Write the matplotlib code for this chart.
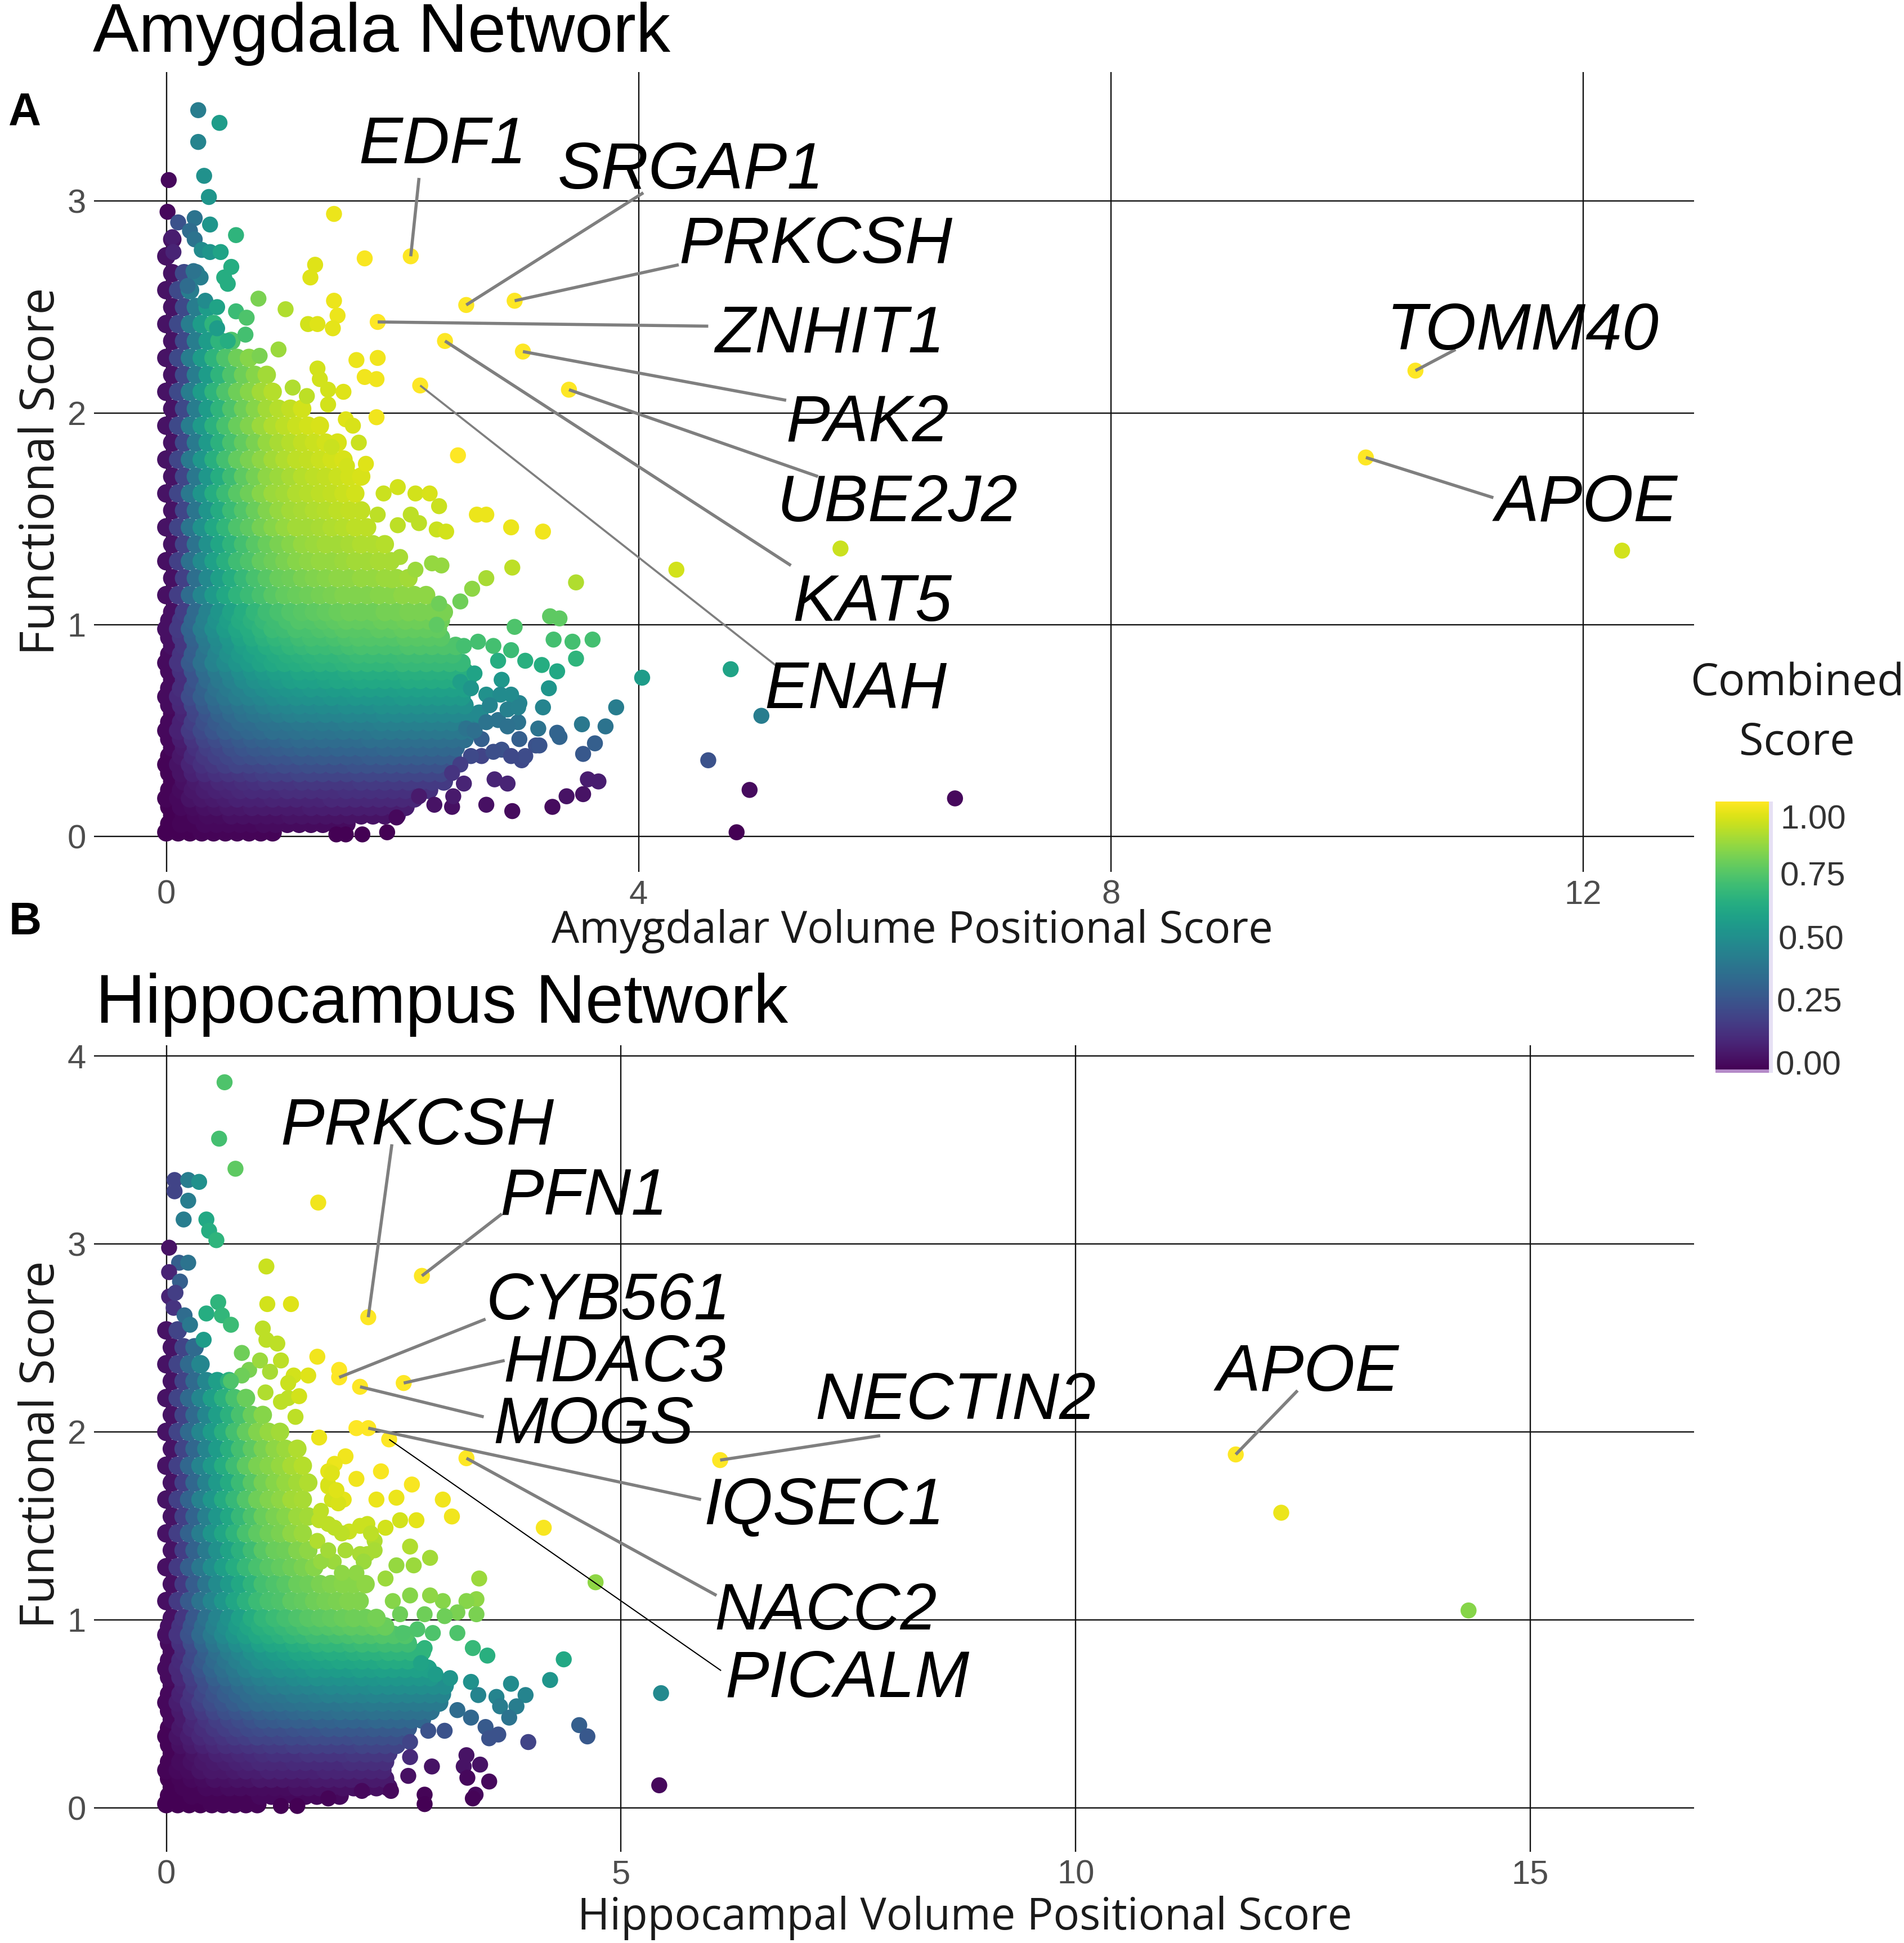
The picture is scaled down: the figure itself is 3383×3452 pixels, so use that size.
import matplotlib
matplotlib.use("Agg")
import matplotlib.pyplot as plt
import numpy as np
from matplotlib.cm import ScalarMappable
from matplotlib.colors import Normalize
from matplotlib.patches import Rectangle

W, H = 3383, 3452

# ---- Amygdala panel: dense part of the cloud, read row by row (score in %)
# even rows sit on a_cloud_x, odd rows on a_cloud_x2
a_cloud_x = [0.0, 0.1, 0.2, 0.3, 0.4, 0.5, 0.6, 0.7, 0.8, 0.9, 1.0, 1.1, 1.2,
             1.3, 1.4, 1.5, 1.6, 1.7, 1.8, 1.9, 2.0, 2.1, 2.2, 2.3, 2.4, 2.5, 2.6]
a_cloud_x2 = [0.05, 0.15, 0.25, 0.35, 0.45, 0.55, 0.65, 0.75, 0.85, 0.95, 1.05, 1.15, 1.25,
              1.35, 1.45, 1.55, 1.65, 1.75, 1.85, 1.95, 2.05, 2.15, 2.25, 2.35, 2.45, 2.55, 2.65]
a_cloud_y = [0.02, 0.10, 0.18, 0.26, 0.34, 0.42, 0.50, 0.58, 0.66, 0.74, 0.82,
             0.90, 0.98, 1.06, 1.14, 1.22, 1.30, 1.38, 1.46, 1.54, 1.62, 1.70,
             1.78, 1.86, 1.94, 2.02, 2.10, 2.18, 2.26, 2.34, 2.42, 2.50, 2.58,
             2.66, 2.74, 2.82]
a_cloud_score = [
    [0, 0, 0, 1, 1, 1, 1, 1, 1, 1],
    [0, 1, 2, 3, 3, 4, 4, 4, 4, 4, 5, 5, 5, 5, 5, 5, 5, 5, 5, 5],
    [1, 2, 5, 6, 7, 8, 9, 9, 9, 10, 10, 10, 10, 10, 11, 11, 11, 11, 11, 11, 11, 11],
    [1, 4, 7, 9, 11, 12, 13, 14, 15, 15, 15, 16, 16, 16, 16, 16, 17, 17, 17, 17, 17, 17, 17, 17],
    [1, 5, 10, 14, 16, 18, 20, 20, 21, 22, 23, 23, 24, 24, 24, 24, 25, 25, 25, 25, 25, 25, 25, 25, 25],
    [2, 7, 14, 18, 21, 24, 26, 27, 28, 29, 30, 31, 31, 31, 32, 32, 32, 32, 33, 33, 33, 33, 33, 33, 33],
    [2, 9, 17, 22, 26, 29, 31, 33, 34, 36, 36, 37, 38, 38, 38, 39, 39, 39, 40, 40, 40, 40, 40, 40, 40, 40, 40],
    [2, 10, 20, 26, 31, 34, 37, 39, 40, 42, 43, 44, 44, 45, 45, 46, 46, 46, 47, 47, 47, 47, 47, 47, 47, 47, 47],
    [3, 12, 23, 30, 35, 39, 42, 44, 46, 48, 49, 50, 51, 51, 52, 52, 53, 53, 53, 53, 54, 54, 54, 54, 54, 54],
    [3, 13, 26, 34, 40, 44, 48, 50, 52, 54, 56, 57, 57, 58, 59, 59, 60, 60, 60, 60, 61, 61, 61, 61, 61, 61],
    [3, 15, 28, 37, 44, 48, 52, 55, 58, 60, 61, 62, 63, 64, 64, 65, 66, 66, 66, 66, 67, 67, 67, 67, 67, 67],
    [4, 16, 30, 40, 47, 52, 56, 59, 62, 64, 66, 67, 68, 68, 69, 70, 71, 71, 71, 71, 72, 72, 72, 72, 72],
    [4, 17, 32, 42, 49, 55, 59, 62, 65, 68, 69, 71, 71, 72, 73, 74, 74, 74, 75, 75, 76, 76, 76, 76],
    [4, 18, 34, 44, 52, 58, 62, 66, 69, 71, 73, 74, 75, 76, 77, 78, 78, 78, 79, 79, 80, 80, 80, 80],
    [4, 18, 35, 46, 54, 60, 65, 68, 71, 74, 76, 77, 78, 79, 80, 81, 81, 81, 82, 82, 83, 83, 83],
    [4, 19, 36, 47, 56, 62, 67, 71, 74, 77, 78, 80, 81, 82, 83, 83, 84, 84, 85, 85, 86],
    [4, 19, 37, 48, 57, 63, 69, 72, 76, 78, 80, 82, 83, 84, 84, 85, 86, 86, 87, 87],
    [5, 20, 38, 50, 59, 65, 70, 74, 77, 80, 82, 84, 85, 86, 86, 87, 88, 88, 89],
    [5, 20, 39, 51, 60, 66, 72, 75, 79, 82, 84, 86, 86, 87, 88, 89, 90, 90],
    [5, 21, 39, 52, 61, 68, 73, 77, 81, 84, 86, 87, 88, 89, 90, 91, 91],
    [5, 21, 40, 52, 62, 68, 74, 78, 82, 85, 86, 88, 89, 90, 91, 92, 93],
    [5, 21, 40, 53, 62, 69, 75, 79, 83, 85, 87, 89, 90, 91, 92, 93, 94],
    [5, 21, 41, 53, 63, 70, 76, 80, 83, 86, 88, 90, 91, 92, 93, 94],
    [5, 22, 41, 54, 64, 71, 76, 80, 84, 87, 89, 91, 92, 93, 94],
    [5, 22, 42, 54, 64, 71, 77, 81, 85, 88, 90, 92, 93, 94],
    [5, 22, 42, 55, 65, 72, 78, 82, 86, 89, 91, 93],
    [5, 22, 42, 55, 65, 72, 78, 82, 86, 89],
    [5, 22, 42, 55, 65, 72, 78, 82, 86],
    [5, 22, 42, 55, 65, 72, 78, 82],
    [5, 22, 42, 55, 65, 72],
    [5, 22, 42, 55, 65],
    [5, 22, 42, 55],
    [5, 22, 42],
    [5, 22, 42],
    [5],
    [5],
]

# in-between rows in the lower part, where the colour changes quickly with height
a_fill_x = [0.025, 0.125, 0.225, 0.325, 0.425, 0.525, 0.625, 0.725, 0.825, 0.925, 1.025, 1.125, 1.225,
            1.325, 1.425, 1.525, 1.625, 1.725, 1.825, 1.925, 2.025, 2.125, 2.225, 2.325, 2.425, 2.525, 2.625]
a_fill_y = [0.06, 0.14, 0.22, 0.30, 0.38, 0.46, 0.54, 0.62, 0.70, 0.78, 0.86, 0.94, 1.02]
a_fill_score = [
    [0, 1, 1, 2, 2, 2, 2, 2, 3, 3, 3, 3, 3, 3, 3, 3],
    [0, 2, 3, 4, 5, 6, 6, 7, 7, 7, 7, 7, 8, 8, 8, 8, 8, 8, 8, 8, 8],
    [1, 3, 6, 8, 9, 10, 11, 12, 12, 12, 13, 13, 13, 13, 13, 14, 14, 14, 14, 14, 14, 14, 14],
    [1, 5, 9, 12, 14, 15, 16, 17, 18, 19, 19, 20, 20, 20, 20, 20, 21, 21, 21, 21, 21, 21, 21, 21],
    [1, 6, 12, 16, 19, 21, 23, 24, 25, 26, 26, 27, 27, 28, 28, 28, 28, 29, 29, 29, 29, 29, 29, 29, 29],
    [2, 8, 15, 20, 23, 26, 28, 30, 31, 32, 33, 34, 34, 35, 35, 35, 35, 36, 36, 36, 36, 36, 36, 36, 36, 36],
    [2, 9, 18, 24, 28, 31, 34, 35, 37, 38, 39, 40, 40, 41, 41, 42, 42, 42, 43, 43, 43, 43, 43, 43, 43, 43, 43],
    [3, 11, 21, 28, 33, 36, 39, 41, 43, 45, 46, 47, 47, 48, 48, 49, 49, 49, 50, 50, 50, 50, 50, 50, 50, 50],
    [3, 13, 24, 31, 37, 41, 44, 47, 49, 51, 52, 53, 54, 54, 55, 55, 56, 56, 56, 56, 57, 57, 57, 57, 57, 57],
    [3, 14, 26, 35, 41, 45, 49, 52, 54, 56, 57, 59, 59, 60, 60, 61, 62, 62, 62, 62, 63, 63, 63, 63, 63, 63],
    [3, 15, 29, 38, 45, 50, 54, 57, 59, 61, 63, 64, 65, 66, 66, 67, 68, 68, 68, 68, 69, 69, 69, 69, 69],
    [4, 16, 31, 41, 48, 53, 58, 61, 64, 66, 67, 69, 70, 70, 71, 72, 73, 73, 73, 73, 74, 74, 74, 74],
    [4, 17, 33, 43, 51, 56, 61, 64, 67, 69, 71, 73, 73, 74, 75, 76, 76, 76, 77, 77, 78, 78, 78, 78],
]

# separate points around the cloud
a_x = [0.27, 0.45, 0.27, 0.32, 0.36, 0.02, 0.01, 0.10, 0.24, 0.37,
       0.59, 1.42, 1.68, 1.26, 1.22, 0.78, 1.01, 1.42, 1.45, 1.2,
       1.28, 1.41, 0.95, 0.79, 1.61, 1.79, 1.68, 1.78, 1.28, 1.3,
       1.37, 1.5, 1.07, 1.19, 1.37, 1.78, 1.52, 1.58, 1.63, 1.4,
       1.69, 1.53, 2.47, 1.84, 1.96, 2.11, 2.23, 2.31, 1.79, 1.96,
       2.07, 2.14, 2.29, 2.37, 2.63, 2.71, 2.92, 3.19, 2.93, 2.71,
       2.59, 3.47, 2.49, 2.25, 2.33, 1.98, 2.11, 1.91, 2.31, 2.29,
       2.95, 3.25, 3.33, 3.28, 3.44, 3.61, 3.47, 3.31, 3.18, 3.04,
       2.92, 2.77, 2.64, 2.52, 2.81, 4.03, 3.24, 3.19, 3.81, 3.72,
       3.52, 3.15, 3.33, 3.63, 3.53, 2.99, 2.84, 2.61, 2.81, 2.98,
       2.99, 2.67, 2.84, 3.01, 3.13, 2.67, 2.78, 2.89, 3.57, 3.66,
       3.39, 3.53, 3.27, 2.71, 2.93, 2.42, 2.27, 2.43, 2.14, 1.44,
       1.52, 1.66, 1.87, 1.95, 4.32, 5.71, 4.78, 5.04, 4.59, 4.94,
       4.83, 6.68, 12.33]
a_y = [3.43, 3.37, 3.28, 3.12, 3.02, 3.10, 2.95, 2.90, 2.92, 2.89,
       2.84, 2.94, 2.73, 2.70, 2.64, 2.54, 2.49, 2.53, 2.46, 2.42,
       2.42, 2.40, 2.30, 2.27, 2.25, 2.26, 2.17, 2.16, 2.21, 2.16,
       2.11, 2.10, 2.12, 2.08, 2.04, 1.98, 1.97, 1.94, 1.86, 1.84,
       1.76, 1.75, 1.80, 1.62, 1.65, 1.62, 1.62, 1.56, 1.52, 1.47,
       1.52, 1.48, 1.45, 1.44, 1.52, 1.52, 1.46, 1.44, 1.27, 1.22,
       1.17, 1.2, 1.11, 1.29, 1.28, 1.32, 1.26, 1.21, 1.1, 1.0,
       0.99, 1.04, 1.03, 0.93, 0.92, 0.93, 0.84, 0.78, 0.81, 0.83,
       0.88, 0.9, 0.92, 0.9, 0.83, 0.75, 0.7, 0.61, 0.61, 0.52,
       0.53, 0.51, 0.47, 0.44, 0.39, 0.63, 0.74, 0.77, 0.55, 0.54,
       0.46, 0.46, 0.41, 0.36, 0.43, 0.38, 0.27, 0.25, 0.27, 0.26,
       0.19, 0.2, 0.14, 0.15, 0.12, 0.14, 0.15, 0.19, 0.19, 0.01,
       0.01, 0.01, 0.02, 0.09, 1.26, 1.36, 0.79, 0.57, 0.36, 0.22,
       0.02, 0.18, 1.35]
a_score = [0.42, 0.55, 0.45, 0.5, 0.52, 0.02, 0.02, 0.25, 0.38, 0.52,
           0.65, 0.97, 0.99, 0.95, 0.95, 0.8, 0.88, 0.97, 0.97, 0.93,
           0.95, 0.96, 0.85, 0.8, 0.97, 0.98, 0.98, 0.98, 0.93, 0.93,
           0.93, 0.95, 0.88, 0.9, 0.93, 0.98, 0.95, 0.94, 0.92, 0.92,
           0.95, 0.93, 1.0, 0.92, 0.93, 0.93, 0.94, 0.92, 0.9, 0.9,
           0.9, 0.9, 0.92, 0.93, 0.97, 0.97, 0.97, 0.98, 0.9, 0.87,
           0.83, 0.88, 0.78, 0.84, 0.84, 0.87, 0.85, 0.85, 0.78, 0.75,
           0.72, 0.75, 0.75, 0.7, 0.7, 0.7, 0.65, 0.6, 0.62, 0.63,
           0.68, 0.7, 0.7, 0.7, 0.62, 0.55, 0.52, 0.45, 0.42, 0.38,
           0.4, 0.38, 0.32, 0.3, 0.27, 0.45, 0.53, 0.58, 0.38, 0.38,
           0.3, 0.3, 0.25, 0.22, 0.25, 0.2, 0.1, 0.1, 0.08, 0.08,
           0.05, 0.05, 0.03, 0.04, 0.03, 0.04, 0.05, 0.07, 0.07, 0.0,
           0.0, 0.0, 0.0, 0.02, 0.93, 0.92, 0.58, 0.42, 0.25, 0.03,
           0.0, 0.02, 0.93]

# looser points near the top of the cloud and along its lower right edge
a_more_x = [0.05, 0.06, 0.2, 0.24, 0.3, 0.37, 0.46, 0.55, 0.49, 0.52,
            0.29, 0.23, 0.18, 0.33, 0.43, 0.59, 0.68, 0.67, 0.52, 0.43,
            2.49, 2.58, 2.71, 2.83, 2.92, 2.74, 2.89, 2.98, 2.54, 2.61,
            2.71, 2.89, 3.31, 3.16, 3.04, 2.92, 2.77, 2.58, 2.49, 2.42, 2.52]
a_more_y = [2.83, 2.76, 2.86, 2.82, 2.77, 2.76, 2.76, 2.69, 2.64, 2.61,
            2.64, 2.67, 2.6, 2.53, 2.5, 2.48, 2.45, 2.37, 2.34, 2.4,
            0.73, 0.7, 0.67, 0.67, 0.67, 0.62, 0.6, 0.61, 0.51, 0.5,
            0.54, 0.52, 0.49, 0.43, 0.38, 0.38, 0.4, 0.38, 0.34, 0.3, 0.25]
a_more_score = [0.08, 0.1, 0.35, 0.38, 0.48, 0.52, 0.58, 0.62, 0.62, 0.62,
                0.42, 0.38, 0.35, 0.48, 0.58, 0.68, 0.72, 0.7, 0.62, 0.55,
                0.56, 0.52, 0.5, 0.48, 0.48, 0.45, 0.43, 0.44, 0.38, 0.36,
                0.38, 0.37, 0.32, 0.26, 0.23, 0.22, 0.24, 0.22, 0.18, 0.15, 0.1]

# labelled genes
a_gene = ["EDF1", "SRGAP1", "PRKCSH", "ZNHIT1", "PAK2", "UBE2J2", "KAT5", "ENAH", "TOMM40", "APOE"]
a_gene_x = [2.07, 2.54, 2.95, 1.79, 3.02, 3.41, 2.36, 2.15, 10.58, 10.16]
a_gene_y = [2.74, 2.51, 2.53, 2.43, 2.29, 2.11, 2.34, 2.13, 2.20, 1.79]
# where the label sits and where its leader line starts
a_label_x = [2.34, 4.44, 5.50, 5.62, 5.94, 6.19, 5.98, 5.84, 11.49, 12.03]
a_label_y = [3.26, 3.14, 2.79, 2.37, 1.95, 1.57, 1.10, 0.69, 2.38, 1.57]
a_line_x = [2.14, 4.04, 4.34, 4.59, 5.25, 5.52, 5.29, 5.18, 10.92, 11.24]
a_line_y = [3.11, 3.04, 2.70, 2.41, 2.06, 1.70, 1.28, 0.80, 2.30, 1.60]

# ---- Hippocampus panel
b_cloud_x = [0.0, 0.125, 0.25, 0.375, 0.5, 0.625, 0.75, 0.875, 1.0, 1.125, 1.25, 1.375,
             1.5, 1.625, 1.75, 1.875, 2.0, 2.125, 2.25, 2.375, 2.5, 2.625, 2.75, 2.875, 3.0]
b_cloud_x2 = [0.06, 0.19, 0.31, 0.44, 0.56, 0.69, 0.81, 0.94, 1.06, 1.19, 1.31, 1.44,
              1.56, 1.69, 1.81, 1.94, 2.06, 2.19, 2.31, 2.44, 2.56, 2.69, 2.81, 2.94, 3.06]
b_cloud_y = [0.02, 0.11, 0.20, 0.29, 0.38, 0.47, 0.56, 0.65, 0.74, 0.83, 0.92,
             1.01, 1.10, 1.19, 1.28, 1.37, 1.46, 1.55, 1.64, 1.73, 1.82, 1.91,
             2.00, 2.09, 2.18, 2.27, 2.36, 2.45, 2.54]
b_cloud_score = [
    [0, 0, 0, 0, 1, 1, 1, 1, 1],
    [0, 1, 1, 2, 2, 3, 3, 3, 3, 3, 3, 4, 4, 4, 4, 4, 4, 4, 4, 4],
    [1, 2, 3, 5, 6, 6, 7, 8, 8, 9, 9, 9, 9, 9, 10, 10, 10, 10, 10, 10],
    [1, 3, 5, 7, 9, 10, 11, 12, 13, 14, 14, 14, 15, 15, 15, 15, 16, 16, 16, 16],
    [1, 5, 8, 11, 13, 15, 17, 18, 20, 20, 21, 22, 22, 23, 23, 23, 23, 24, 24, 24, 24, 24],
    [2, 7, 11, 15, 18, 21, 23, 25, 27, 28, 29, 30, 30, 31, 31, 32, 32, 32, 33, 33, 33, 33, 33],
    [2, 8, 14, 19, 23, 26, 29, 32, 34, 35, 36, 37, 38, 39, 39, 39, 40, 40, 41, 41, 41, 41, 41, 41, 41],
    [2, 10, 17, 23, 27, 31, 35, 38, 40, 42, 43, 44, 45, 46, 47, 47, 48, 48, 49, 49, 49, 49, 49, 49, 49],
    [3, 11, 19, 26, 32, 36, 40, 44, 47, 48, 50, 51, 52, 54, 54, 55, 55, 56, 56, 57, 57, 57, 57, 57],
    [3, 13, 22, 30, 36, 42, 46, 50, 53, 55, 57, 59, 60, 61, 62, 62, 63, 64, 64, 65, 65, 65, 65],
    [4, 15, 25, 34, 41, 47, 52, 56, 60, 62, 64, 66, 67, 69, 69, 70, 71, 72, 72, 73, 73, 73],
    [4, 16, 27, 37, 45, 51, 57, 62, 66, 68, 70, 72, 74, 75, 76, 77, 78, 78, 79],
    [4, 17, 28, 38, 46, 53, 59, 64, 68, 71, 72, 75, 76, 78, 79, 80, 81, 81],
    [4, 17, 29, 39, 48, 54, 60, 65, 70, 72, 74, 77, 78, 80, 81, 82, 82, 83],
    [4, 17, 30, 40, 49, 56, 62, 67, 71, 74, 76, 78, 80, 82],
    [5, 18, 31, 41, 50, 58, 64, 69, 74, 77, 78, 81, 83],
    [5, 18, 31, 42, 52, 59, 65, 71, 75, 78, 80, 83, 85],
    [5, 19, 32, 43, 53, 60, 67, 72, 77, 80, 82, 85, 86],
    [5, 19, 32, 44, 53, 61, 67, 73, 78, 81, 83, 86, 87],
    [5, 19, 33, 44, 54, 61, 68, 74, 79, 82, 84, 86, 88],
    [5, 19, 33, 45, 54, 62, 69, 75, 80, 82, 84, 87, 89],
    [5, 20, 33, 45, 55, 63, 70, 75, 80, 83, 85, 88],
    [5, 20, 34, 46, 55, 63, 70, 76, 81, 84, 86],
    [5, 20, 34, 46, 56, 64, 71, 77, 82],
    [5, 20, 34, 46, 56, 64, 71, 77],
    [5, 20, 34, 46, 56, 64],
    [5, 20, 34, 46],
    [5, 20, 34],
    [5, 20],
]

b_fill_x = [0.03, 0.155, 0.28, 0.405, 0.53, 0.655, 0.78, 0.905, 1.03, 1.155, 1.28, 1.405,
            1.53, 1.655, 1.78, 1.905, 2.03, 2.155, 2.28, 2.405, 2.53, 2.655, 2.78, 2.905, 3.03]
b_fill_y = [0.065, 0.155, 0.245, 0.335, 0.425, 0.515, 0.605, 0.695, 0.785, 0.875, 0.965]
b_fill_score = [
    [0, 0, 1, 1, 1, 1, 1, 1, 2, 2, 2, 2, 2, 2, 2, 2],
    [0, 1, 2, 3, 4, 4, 5, 5, 6, 6, 6, 6, 6, 7, 7, 7, 7, 7, 7, 7],
    [1, 3, 4, 6, 7, 8, 9, 10, 11, 11, 11, 12, 12, 12, 12, 12, 13, 13, 13, 13],
    [1, 4, 7, 9, 11, 13, 14, 15, 16, 17, 17, 18, 18, 19, 19, 19, 19, 20, 20, 20, 20],
    [1, 6, 10, 13, 16, 18, 20, 22, 23, 24, 24, 25, 26, 26, 27, 27, 27, 27, 28, 28, 28, 28],
    [2, 7, 13, 17, 21, 24, 26, 28, 30, 31, 32, 33, 34, 35, 35, 36, 36, 36, 37, 37, 37, 37, 37, 37],
    [2, 9, 15, 21, 25, 29, 32, 35, 37, 38, 39, 41, 41, 42, 43, 43, 44, 44, 45, 45, 45, 45, 45, 45, 45],
    [3, 11, 18, 24, 30, 34, 38, 41, 43, 45, 46, 48, 49, 50, 50, 51, 51, 52, 52, 53, 53, 53, 53, 53],
    [3, 12, 21, 28, 34, 39, 43, 47, 50, 52, 53, 55, 56, 57, 58, 59, 59, 60, 60, 61, 61, 61, 61],
    [3, 14, 23, 32, 39, 44, 49, 53, 57, 59, 60, 62, 63, 65, 66, 66, 67, 68, 68, 69, 69, 69],
    [4, 15, 26, 35, 43, 49, 55, 59, 63, 65, 67, 69, 71, 72, 73, 74, 75, 75, 76, 77],
]

b_x = [0.64, 0.58, 0.76, 1.67, 0.09, 0.24, 0.36, 0.09, 0.24, 0.19,
       0.44, 0.47, 0.55, 0.03, 0.14, 0.24, 0.03, 0.15, 1.1, 1.11,
       1.37, 0.03, 0.08, 0.44, 0.57, 0.61, 0.71, 0.2, 0.26, 0.1,
       0.41, 1.06, 1.1, 1.22, 0.83, 1.66, 1.9, 2.09, 1.68, 1.97,
       1.85, 1.78, 2.09, 2.36, 2.7, 1.78, 1.95, 2.31, 2.53, 3.04,
       3.14, 4.15, 2.75, 2.57, 2.41, 2.21, 2.01, 1.85, 1.68, 2.68,
       2.9, 2.72, 2.29, 2.21, 2.53, 1.97, 3.44, 3.41, 3.3, 3.41,
       3.04, 2.9, 3.2, 3.06, 2.84, 2.41, 2.49, 2.68, 2.57, 4.72,
       2.93, 3.2, 2.84, 3.37, 3.53, 4.37, 4.22, 2.76, 2.6, 2.8,
       2.96, 3.12, 3.35, 3.43, 3.63, 3.79, 3.95, 3.67, 3.85, 3.77,
       5.44, 3.35, 3.2, 3.51, 3.65, 3.55, 3.98, 4.54, 4.63, 2.88,
       3.06, 2.68, 2.68, 2.66, 2.92, 3.3, 3.27, 3.45, 3.31, 3.55,
       3.4, 3.37, 2.84, 2.84, 5.42, 1.26, 1.44, 1.78, 2.15, 2.47,
       12.26, 14.32]
b_y = [3.86, 3.56, 3.40, 3.22, 3.34, 3.34, 3.33, 3.28, 3.23, 3.13,
       3.13, 3.07, 3.02, 2.98, 2.90, 2.9, 2.85, 2.80, 2.88, 2.68,
       2.68, 2.72, 2.66, 2.63, 2.69, 2.62, 2.57, 2.62, 2.57, 2.74,
       2.49, 2.55, 2.49, 2.47, 2.42, 2.40, 2.33, 2.02, 1.97, 1.87,
       1.83, 1.79, 1.75, 1.79, 1.72, 1.71, 1.64, 1.64, 1.65, 1.64,
       1.55, 1.49, 1.53, 1.53, 1.49, 1.51, 1.47, 1.49, 1.53, 1.39,
       1.33, 1.29, 1.42, 1.35, 1.29, 1.37, 1.22, 1.11, 1.1, 1.03,
       1.1, 1.13, 1.04, 1.02, 1.03, 1.22, 1.1, 1.13, 1.03, 1.2,
       0.93, 0.93, 0.85, 0.85, 0.81, 0.79, 0.68, 0.95, 0.93, 0.77,
       0.71, 0.69, 0.67, 0.6, 0.59, 0.66, 0.6, 0.54, 0.54, 0.48,
       0.61, 0.48, 0.52, 0.43, 0.39, 0.37, 0.35, 0.44, 0.38, 0.41,
       0.41, 0.35, 0.27, 0.17, 0.22, 0.28, 0.22, 0.23, 0.16, 0.14,
       0.07, 0.05, 0.07, 0.02, 0.12, 0.01, 0.01, 0.05, 0.09, 0.09,
       1.57, 1.05]
b_score = [0.72, 0.7, 0.75, 0.98, 0.2, 0.42, 0.5, 0.2, 0.42, 0.42,
           0.6, 0.62, 0.65, 0.05, 0.3, 0.38, 0.1, 0.3, 0.92, 0.93,
           0.95, 0.1, 0.15, 0.62, 0.65, 0.66, 0.68, 0.35, 0.4, 0.18,
           0.55, 0.9, 0.9, 0.9, 0.78, 0.98, 1.0, 1.0, 0.97, 0.98,
           0.97, 0.96, 0.98, 0.99, 0.99, 0.95, 0.96, 0.97, 0.97, 0.98,
           0.98, 0.99, 0.96, 0.93, 0.93, 0.92, 0.92, 0.9, 0.9, 0.88,
           0.86, 0.85, 0.88, 0.87, 0.84, 0.87, 0.85, 0.83, 0.82, 0.8,
           0.82, 0.83, 0.8, 0.78, 0.78, 0.85, 0.82, 0.82, 0.78, 0.83,
           0.72, 0.72, 0.65, 0.67, 0.63, 0.6, 0.52, 0.72, 0.72, 0.58,
           0.55, 0.52, 0.5, 0.45, 0.45, 0.48, 0.45, 0.42, 0.42, 0.38,
           0.47, 0.33, 0.35, 0.28, 0.25, 0.25, 0.2, 0.3, 0.27, 0.25,
           0.25, 0.2, 0.12, 0.04, 0.05, 0.05, 0.05, 0.05, 0.02, 0.02,
           0.02, 0.01, 0.01, 0.0, 0.02, 0.0, 0.0, 0.01, 0.02, 0.02,
           0.97, 0.82]

b_more_x = [1.78, 1.82, 1.89, 1.87, 1.82, 1.7, 1.78, 1.93, 2.13, 2.25,
            2.13, 2.29, 2.17, 1.84, 1.7, 1.93, 2.09, 1.66, 1.78,
            0.91, 1.03, 1.14, 1.26, 1.4, 1.56, 1.34, 1.09, 1.26, 1.42,
            1.34, 1.46, 0.83, 0.71]
b_more_y = [1.72, 1.64, 1.62, 1.69, 1.78, 1.58, 1.51, 1.46, 1.5, 1.46,
            1.35, 1.37, 1.31, 1.31, 1.31, 1.25, 1.25, 1.42, 1.37,
            2.33, 2.38, 2.32, 2.38, 2.3, 2.3, 2.26, 2.21, 2.16, 2.08,
            2.18, 2.19, 2.3, 2.27]
b_more_score = [0.94, 0.93, 0.94, 0.95, 0.95, 0.9, 0.9, 0.9, 0.92, 0.9,
                0.87, 0.87, 0.85, 0.85, 0.84, 0.83, 0.83, 0.88, 0.86,
                0.8, 0.85, 0.87, 0.9, 0.93, 0.95, 0.92, 0.88, 0.9, 0.9,
                0.9, 0.93, 0.78, 0.72]

b_gene = ["PRKCSH", "PFN1", "CYB561", "HDAC3", "MOGS", "NECTIN2", "IQSEC1", "NACC2", "PICALM", "APOE"]
b_gene_x = [2.22, 2.81, 1.9, 2.61, 2.13, 6.09, 2.22, 3.3, 2.45, 11.76]
b_gene_y = [2.61, 2.83, 2.29, 2.26, 2.24, 1.85, 2.02, 1.86, 1.96, 1.88]
b_label_x = [2.76, 4.59, 4.86, 4.93, 4.70, 8.68, 7.23, 7.25, 7.49, 12.55]
b_label_y = [3.62, 3.25, 2.69, 2.36, 2.03, 2.16, 1.60, 1.04, 0.68, 2.31]
b_line_x = [2.48, 3.69, 3.51, 3.72, 3.49, 7.85, 5.88, 6.05, 6.10, 12.44]
b_line_y = [3.53, 3.16, 2.60, 2.38, 2.08, 1.98, 1.64, 1.13, 0.73, 2.22]

legend_ticks = ["1.00", "0.75", "0.50", "0.25", "0.00"]

SANS = "Liberation Sans"
LABEL_FONT = "Open Sans"
TICK_GREY = "#4d4d4d"
GRID = "#111111"
LEADER = "#7f7f7f"


def px_axes(fig, left, right, top, bottom):
    return fig.add_axes([left / W, 1 - bottom / H, (right - left) / W, (bottom - top) / H])


def fig_text(fig, x, y, s, **kw):
    fig.text(x / W, 1 - y / H, s, **kw)


def draw_panel(ax, cloud_x, cloud_x2, cloud_y, cloud_score, fill_x, fill_y, fill_score, xs, ys, scores,
               gene, gene_x, gene_y, label_x, label_y, line_x, line_y, thin):
    px, py, pc = [], [], []
    for i, (row_y, row) in enumerate(zip(cloud_y, cloud_score)):
        row_x = cloud_x2 if i % 2 else cloud_x
        for col_x, score in zip(row_x, row):
            px.append(col_x)
            py.append(row_y)
            pc.append(score / 100)
    for row_y, row in zip(fill_y, fill_score):
        for col_x, score in zip(fill_x, row):
            px.append(col_x)
            py.append(row_y)
            pc.append(score / 100)
    # higher scores are drawn over lower ones, this gives the smooth bands
    order = np.argsort(pc, kind="stable")
    px, py, pc = np.array(px)[order], np.array(py)[order], np.array(pc)[order]

    ax.scatter(px, py, c=pc, cmap="viridis", vmin=0, vmax=1, s=560, linewidths=0, zorder=2)
    ax.scatter(xs, ys, c=scores, cmap="viridis", vmin=0, vmax=1, s=420, linewidths=0, zorder=3)
    ax.scatter(gene_x, gene_y, c=[1.0] * len(gene), cmap="viridis", vmin=0, vmax=1,
               s=420, linewidths=0, zorder=3)

    for i, name in enumerate(gene):
        if name in thin:
            color, lw = thin[name]
        else:
            color, lw = LEADER, 4
        ax.plot([line_x[i], gene_x[i]], [line_y[i], gene_y[i]], color=color, lw=lw,
                solid_capstyle="butt", zorder=4)
        ax.text(label_x[i], label_y[i], name, family=SANS, style="italic", fontsize=84,
                ha="center", va="center", color="black", zorder=5)

    for side in ax.spines.values():
        side.set_visible(False)
    ax.set_axisbelow(True)
    ax.grid(True, color=GRID, lw=1.7)
    ax.tick_params(length=0, labelsize=43, labelcolor=TICK_GREY, pad=10)
    for t in ax.get_xticklabels() + ax.get_yticklabels():
        t.set_family(SANS)


fig = plt.figure(figsize=(W / 100, H / 100), dpi=100, facecolor="white")

ax_a = px_axes(fig, 167, 3010, 128, 1549)
ax_a.set_xlim(-0.613, 12.94)
ax_a.set_ylim(-0.167, 3.61)
ax_a.set_xticks([0, 4, 8, 12])
ax_a.set_yticks([0, 1, 2, 3])
draw_panel(ax_a, a_cloud_x, a_cloud_x2, a_cloud_y, a_cloud_score, a_fill_x, a_fill_y, a_fill_score,
           a_x + a_more_x, a_y + a_more_y, a_score + a_more_score,
           a_gene, a_gene_x, a_gene_y, a_label_x, a_label_y, a_line_x, a_line_y,
           {"ENAH": (LEADER, 2.6)})

ax_b = px_axes(fig, 167, 3010, 1857, 3290)
ax_b.set_xlim(-0.796, 16.8)
ax_b.set_ylim(-0.234, 4.057)
ax_b.set_xticks([0, 5, 10, 15])
ax_b.set_yticks([0, 1, 2, 3, 4])
draw_panel(ax_b, b_cloud_x, b_cloud_x2, b_cloud_y, b_cloud_score, b_fill_x, b_fill_y, b_fill_score,
           b_x + b_more_x, b_y + b_more_y, b_score + b_more_score,
           b_gene, b_gene_x, b_gene_y, b_label_x, b_label_y, b_line_x, b_line_y,
           {"PICALM": ("black", 1.5)})

# titles and axis labels are placed by hand like in the figure
fig_text(fig, 165, 92, "Amygdala Network", family=SANS, fontsize=88, va="baseline")
fig_text(fig, 170, 1817, "Hippocampus Network", family=SANS, fontsize=88, va="baseline")
fig_text(fig, 15, 222, "A", family=SANS, weight="bold", fontsize=58, va="baseline")
fig_text(fig, 16, 1660, "B", family=SANS, weight="bold", fontsize=58, va="baseline")
fig_text(fig, 1621, 1654, "Amygdalar Volume Positional Score", family=LABEL_FONT, fontsize=56,
         ha="center", va="center", color="#1a1a1a")
fig_text(fig, 1714, 3407, "Hippocampal Volume Positional Score", family=LABEL_FONT, fontsize=56,
         ha="center", va="center", color="#1a1a1a")
fig_text(fig, 74, 837, "Functional Score", family=LABEL_FONT, fontsize=61, rotation=90,
         ha="center", va="center", color="#1a1a1a")
fig_text(fig, 74, 2566, "Functional Score", family=LABEL_FONT, fontsize=61, rotation=90,
         ha="center", va="center", color="#1a1a1a")

# colour legend
fig.add_artist(Rectangle((3143 / W, 1 - 1906 / H), 7 / W, 482 / H, transform=fig.transFigure,
                         facecolor="#e6e0f4", edgecolor="none"))
fig.add_artist(Rectangle((3048 / W, 1 - 1906 / H), 95 / W, 6 / H, transform=fig.transFigure,
                         facecolor="#b48ac8", edgecolor="none"))
cax = px_axes(fig, 3048, 3143, 1424, 1901)
bar = fig.colorbar(ScalarMappable(Normalize(0, 1), cmap="viridis"), cax=cax)
bar.outline.set_visible(False)
bar.set_ticks([])
fig_text(fig, 3193, 1214, "Combined", family=LABEL_FONT, fontsize=57, ha="center", va="center", color="#1a1a1a")
fig_text(fig, 3193, 1320, "Score", family=LABEL_FONT, fontsize=57, ha="center", va="center", color="#1a1a1a")
legend_left = [3163, 3163, 3160, 3157, 3155]
legend_mid = [1457, 1558, 1671, 1782, 1894]
for s, lx, ly in zip(legend_ticks, legend_left, legend_mid):
    fig_text(fig, lx, ly, s, family=SANS, fontsize=43, ha="left", va="center", color="#333333")

fig.savefig("out.png", dpi=100)
